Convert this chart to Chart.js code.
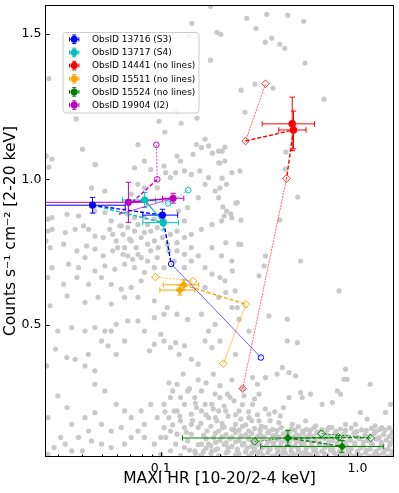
<!DOCTYPE html>
<html>
<head>
<meta charset="utf-8">
<script src="https://cdn.jsdelivr.net/npm/chart.js@4.4.1/dist/chart.umd.min.js"></script>
<style>html,body{margin:0;padding:0;background:#fff}canvas{display:block}</style>
</head>
<body>
<canvas id="c" width="399" height="493"></canvas>
<script>
// axis ranges and ticks
const X_MIN = 0.0258, X_MAX = 1.534, Y_MIN = 0.0446, Y_MAX = 1.600;
const xTicks = [0.03,0.04,0.05,0.06,0.07,0.08,0.09,0.1,0.2,0.3,0.4,0.5,0.6,0.7,0.8,0.9,1.0];
const xMajor = [0.1, 1.0];
const yTicks = [0.5, 1.0, 1.5];

// grey MAXI background sample, [HR, counts]
const bgSparse = [[0.179,1.596],[0.274,1.554],[0.346,1.568],[0.443,1.565],[0.533,1.544],[0.144,1.537],[0.193,1.506],[0.202,1.499],[0.305,1.520],[0.340,1.472],[0.367,1.486],[0.403,1.465],[0.427,1.451],[0.139,1.492],[0.105,1.465],[0.179,1.410],[0.541,1.400],[0.027,1.347],[0.372,1.314],[0.256,1.307],[0.301,1.328],[0.676,1.276],[0.268,1.231],[0.0372,1.208],[0.153,1.211],[0.127,1.193],[0.098,1.200],[0.105,1.163],[0.120,1.235],[0.040,1.104],[0.028,1.070],[0.027,1.042],[0.212,1.111],[0.205,1.097],[0.168,1.138],[0.183,1.090],[0.433,1.094],[0.200,1.056],[0.429,1.035],[0.205,1.004],[0.200,0.970],[0.497,0.939],[0.241,0.918],[0.207,0.905],[0.210,0.874],[0.227,0.881],[0.256,0.860],[0.403,0.860],[0.0466,1.051]];
const bgCore = [[0.0766,1.120],[0.152,1.120],[0.161,1.109],[0.175,1.115],[0.197,1.097],[0.146,1.086],[0.121,1.080],[0.126,1.063],[0.0463,1.052],[0.0736,1.040],[0.0826,1.063],[0.089,1.034],[0.104,1.046],[0.106,1.023],[0.119,1.023],[0.132,1.029],[0.143,1.017],[0.158,1.029],[0.175,1.006],[0.168,0.983],[0.197,1.057],[0.212,1.063],[0.230,1.023],[0.253,1.029],[0.189,0.960],[0.216,0.983],[0.197,0.937],[0.155,0.937],[0.137,0.903],[0.123,0.891],[0.112,1.006],[0.096,0.971],[0.0826,0.971],[0.0766,0.983],[0.0708,0.949],[0.052,0.960],[0.0445,0.971],[0.0262,1.080],
[0.0267,0.863],[0.028,0.868],[0.0334,0.880],[0.0382,0.874],[0.0463,0.891],[0.052,0.886],[0.056,0.857],[0.063,0.840],[0.068,0.834],[0.0736,0.868],[0.0826,0.868],[0.0736,0.822],[0.0795,0.800],[0.089,0.822],[0.096,0.834],[0.0858,0.777],[0.075,0.765],[0.0695,0.794],[0.0643,0.811],[0.0594,0.788],[0.055,0.828],[0.051,0.800],[0.0463,0.805],[0.043,0.828],[0.0405,0.840],[0.0367,0.828],[0.0327,0.817],[0.028,0.828],[0.0267,0.822],[0.0261,0.788],[0.0274,0.765],[0.0321,0.777],[0.0375,0.754],[0.042,0.771],[0.0463,0.760],[0.051,0.737],[0.057,0.754],[0.0643,0.742],[0.072,0.725],[0.0795,0.731],[0.089,0.754],[0.097,0.765],[0.110,0.754],[0.121,0.782],[0.132,0.800],[0.143,0.811],[0.161,0.828],[0.182,0.845],[0.204,0.857],[0.230,0.868],[0.245,0.920],[0.216,0.891],[0.132,0.857],[0.121,0.822],[0.143,0.765],[0.155,0.737],[0.182,0.765],[0.204,0.737],[0.230,0.719],[0.249,0.777],[0.168,0.696],[0.132,0.696],[0.104,0.696],[0.0928,0.696],[0.0826,0.680],[0.0736,0.696],[0.0655,0.708],[0.0584,0.691],[0.052,0.702],[0.0463,0.685],[0.0412,0.731],[0.0382,0.696],[0.034,0.708],[0.028,0.696],[0.0267,0.662],[0.0321,0.639],[0.0375,0.662],[0.043,0.639],[0.050,0.662],[0.056,0.639],[0.063,0.622],[0.0708,0.628],[0.0795,0.651],[0.0655,0.594],[0.056,0.571],[0.048,0.594],[0.0412,0.577],[0.0334,0.599],[0.0274,0.565],[0.0766,0.594],[0.0928,0.582],[0.108,0.559],[0.182,0.674],[0.212,0.651],[0.239,0.616],[0.230,0.559],[0.197,0.594],[0.168,0.628],
[0.068,0.880],[0.0766,0.845],[0.0858,0.845],[0.0928,0.863],[0.104,0.857],[0.0708,0.788],[0.0826,0.817],[0.0928,0.788],[0.102,0.800],[0.108,0.777],[0.0655,0.765],[0.0766,0.742],[0.0858,0.719],[0.096,0.731],[0.068,0.737],[0.0604,0.765],[0.117,0.719],[0.132,0.742],[0.143,0.719],[0.121,0.754],[0.112,0.811],[0.062,0.840],[0.057,0.811]];
const bgSoft = [[0.0292,0.416],[0.0333,0.387],[0.0367,0.381],[0.0428,0.398],[0.0412,0.358],[0.0463,0.341],[0.050,0.444],[0.054,0.427],[0.056,0.478],[0.0594,0.398],[0.0655,0.444],[0.0766,0.513],[0.0826,0.478],[0.0877,0.410],[0.100,0.467],[0.0928,0.433],[0.104,0.444],[0.112,0.421],[0.119,0.438],[0.124,0.398],[0.132,0.427],[0.143,0.381],[0.155,0.364],[0.168,0.444],[0.182,0.421],[0.175,0.478],[0.189,0.501],[0.161,0.536],[0.137,0.518],[0.121,0.536],[0.104,0.536],[0.0928,0.524],[0.068,0.513],[0.0594,0.501],[0.052,0.478],[0.0463,0.490],[0.0412,0.478],[0.0353,0.490],[0.030,0.478],[0.0263,0.358],[0.030,0.255],[0.0334,0.215],[0.0267,0.180],[0.031,0.112],[0.0353,0.157],[0.0412,0.180],[0.0463,0.197],[0.0463,0.295],[0.052,0.272],[0.0594,0.226],[0.0655,0.203],[0.0708,0.180],[0.0795,0.203],[0.0826,0.157],[0.089,0.226],[0.096,0.180],[0.104,0.226],[0.112,0.249],[0.121,0.295],[0.137,0.272],[0.149,0.249],[0.132,0.226],[0.117,0.203],[0.126,0.169],[0.143,0.192],[0.161,0.203],[0.182,0.226],[0.175,0.180],[0.155,0.146],[0.143,0.123],[0.132,0.146],[0.121,0.123],[0.112,0.134],[0.104,0.146],[0.100,0.112],[0.0928,0.089],[0.0826,0.112],[0.0766,0.134],[0.0708,0.112],[0.0655,0.089],[0.056,0.077],[0.050,0.089],[0.0445,0.100],[0.040,0.066],[0.0353,0.066],[0.0287,0.077],[0.0267,0.054],[0.063,0.146],[0.056,0.134],[0.050,0.157],[0.043,0.134],[0.0382,0.112],[0.0327,0.089],
[0.115,0.272],[0.126,0.249],[0.161,0.272],[0.189,0.261],[0.197,0.203],[0.172,0.134],[0.186,0.112],[0.161,0.089],[0.149,0.066],[0.132,0.077],[0.119,0.089],[0.112,0.066],[0.182,0.066],[0.197,0.134],[0.143,0.157],[0.121,0.203],[0.152,0.215],[0.110,0.180],[0.106,0.112],[0.193,0.169],[0.168,0.226],[0.137,0.100],[0.175,0.089],[0.126,0.049],[0.161,0.049],[0.197,0.049],[0.100,0.054]];
const bgShoulder = [[0.105,0.200],[0.115,0.155],[0.125,0.185],[0.135,0.130],[0.145,0.170],[0.150,0.230],[0.160,0.160],[0.165,0.120],[0.170,0.190],[0.180,0.150],[0.185,0.210],[0.190,0.180],[0.205,0.160],[0.210,0.220],[0.220,0.185],[0.230,0.140],[0.225,0.250],[0.240,0.190],[0.255,0.175],[0.260,0.225],[0.270,0.155],[0.280,0.200],[0.290,0.170],[0.300,0.245],[0.310,0.190],[0.325,0.150],[0.340,0.210],[0.360,0.170],[0.380,0.200],[0.420,0.215],[0.170,0.300],[0.200,0.290],[0.185,0.330],[0.155,0.310],[0.140,0.280],[0.130,0.330],[0.110,0.300],[0.230,0.310],[0.260,0.280]];
const bgHard = [[0.214,0.782],[0.255,0.776],[0.341,0.736],[0.335,0.702],[0.514,0.719],[0.231,0.685],[0.316,0.668],[0.200,0.662],[0.214,0.611],[0.355,0.530],[0.440,0.519],[0.806,0.616],[0.245,0.559],[0.250,0.519],[0.281,0.478],[0.200,0.444],[0.240,0.398],[0.440,0.444],[0.495,0.438],[0.415,0.353],[0.449,0.335],[0.485,0.324],[0.390,0.330],[0.341,0.318],[0.310,0.295],[0.293,0.318],[0.854,0.312],[0.887,0.312],[0.870,0.347],[1.16,0.295],[0.514,0.266],
[0.200,0.249],[0.218,0.261],[0.236,0.238],[0.265,0.255],[0.293,0.226],[0.316,0.261],[0.355,0.192],[0.405,0.186],[0.449,0.249],[0.524,0.249],[0.578,0.261],[0.662,0.226],[0.745,0.232],[0.790,0.272],[0.820,0.261],[1.035,0.198],[1.12,0.175],[1.39,0.198],[1.47,0.226],[0.214,0.203],[0.250,0.203],[0.281,0.180],[0.316,0.169],[0.399,0.163],[0.467,0.157],[0.545,0.169],[0.613,0.152],[0.716,0.146],[0.870,0.157],[0.978,0.157],[1.23,0.152],[1.33,0.146],[0.206,0.146],[0.240,0.157]];
const bgBand = [[0.21,0.148],[0.235,0.141],[0.26,0.150],[0.30,0.143],[0.34,0.147],[0.37,0.139],[0.41,0.146],[0.46,0.141],[0.50,0.149],[0.55,0.140],[0.60,0.145],[0.66,0.139],[0.74,0.146],[0.82,0.141],[0.93,0.144],[1.05,0.138],[1.18,0.143],[1.30,0.140],[1.45,0.145],
[0.19,0.127],[0.215,0.122],[0.24,0.129],[0.27,0.121],[0.29,0.126],[0.32,0.123],[0.35,0.128],[0.385,0.120],[0.42,0.125],[0.45,0.129],[0.49,0.121],[0.53,0.126],[0.57,0.122],[0.62,0.128],[0.69,0.121],[0.77,0.126],[0.85,0.123],[0.96,0.127],[1.09,0.121],[1.22,0.126],[1.36,0.122],[1.50,0.127],
[0.17,0.107],[0.20,0.102],[0.225,0.108],[0.25,0.101],[0.28,0.106],[0.305,0.103],[0.33,0.108],[0.36,0.100],[0.39,0.105],[0.43,0.102],[0.47,0.107],[0.51,0.101],[0.56,0.106],[0.61,0.103],[0.68,0.108],[0.75,0.101],[0.83,0.105],[0.92,0.102],[1.02,0.107],[1.12,0.101],[1.25,0.106],[1.40,0.103],[1.52,0.107],
[0.155,0.087],[0.18,0.083],[0.21,0.088],[0.23,0.081],[0.26,0.086],[0.29,0.082],[0.31,0.088],[0.345,0.083],[0.375,0.087],[0.405,0.081],[0.44,0.086],[0.48,0.083],[0.52,0.088],[0.585,0.082],[0.64,0.086],[0.71,0.083],[0.79,0.088],[0.88,0.082],[0.97,0.086],[1.07,0.083],[1.19,0.087],[1.32,0.082],[1.46,0.086],
[0.14,0.068],[0.165,0.063],[0.19,0.069],[0.22,0.064],[0.245,0.067],[0.27,0.062],[0.30,0.068],[0.32,0.064],[0.355,0.069],[0.395,0.063],[0.42,0.067],[0.46,0.064],[0.50,0.069],[0.54,0.062],[0.60,0.067],[0.66,0.064],[0.73,0.068],[0.81,0.063],[0.90,0.067],[1.00,0.064],[1.11,0.068],[1.24,0.063],[1.38,0.067],[1.50,0.064],
[0.16,0.050],[0.20,0.048],[0.24,0.051],[0.28,0.047],[0.33,0.050],[0.37,0.048],[0.41,0.051],[0.45,0.047],[0.49,0.050],[0.53,0.048],[0.58,0.051],[0.63,0.047],[0.70,0.050],[0.78,0.048],[0.86,0.051],[0.95,0.047],[1.04,0.050],[1.15,0.048],[1.28,0.051],[1.42,0.047]];
const bgBandFill = [[0.25,0.137],[0.28,0.134],[0.32,0.138],[0.355,0.133],[0.39,0.136],[0.44,0.132],[0.48,0.137],[0.525,0.134],[0.575,0.136],[0.63,0.131],[0.70,0.137],[0.78,0.133],[0.87,0.136],[0.99,0.132],[1.11,0.136],[1.24,0.133],[1.38,0.137],[1.52,0.134],
[0.205,0.115],[0.23,0.113],[0.255,0.117],[0.28,0.112],[0.31,0.116],[0.335,0.114],[0.37,0.117],[0.40,0.112],[0.435,0.115],[0.47,0.113],[0.51,0.117],[0.55,0.112],[0.595,0.116],[0.65,0.113],[0.72,0.116],[0.80,0.112],[0.89,0.115],[1.00,0.113],[1.15,0.117],[1.29,0.112],[1.45,0.115],
[0.19,0.095],[0.215,0.093],[0.24,0.097],[0.265,0.092],[0.295,0.096],[0.32,0.093],[0.35,0.097],[0.375,0.092],[0.41,0.095],[0.45,0.093],[0.49,0.097],[0.535,0.092],[0.58,0.096],[0.645,0.093],[0.715,0.097],[0.79,0.092],[0.87,0.095],[0.97,0.093],[1.07,0.096],[1.18,0.092],[1.32,0.095],[1.47,0.093],
[0.17,0.075],[0.195,0.073],[0.22,0.077],[0.245,0.072],[0.275,0.076],[0.30,0.073],[0.33,0.077],[0.36,0.072],[0.39,0.075],[0.425,0.073],[0.46,0.077],[0.50,0.072],[0.55,0.076],[0.61,0.073],[0.68,0.077],[0.75,0.072],[0.84,0.075],[0.93,0.073],[1.04,0.076],[1.16,0.072],[1.29,0.075],[1.43,0.073],
[0.15,0.057],[0.18,0.056],[0.215,0.059],[0.25,0.055],[0.29,0.058],[0.31,0.056],[0.35,0.059],[0.39,0.055],[0.43,0.058],[0.47,0.056],[0.51,0.059],[0.56,0.055],[0.62,0.058],[0.68,0.056],[0.76,0.059],[0.83,0.055],[0.91,0.058],[1.00,0.056],[1.10,0.059],[1.22,0.055],[1.35,0.058],[1.50,0.056]];

// ObsID 13716 (S3) - blue
const blueHR = [0.045, 0.102], blueRate = [0.911, 0.877];
const blueLo = [0.010, 0.081], blueHi = [0.066, 0.122], blueErr = [0.027, 0.020];
const blueOpenHR = [0.113, 0.323], blueOpenRate = [0.709, 0.387];
// ObsID 13717 (S4) - cyan
const cyanHR = [0.0829, 0.103], cyanRate = [0.929, 0.851];
const cyanLo = [0.064, 0.081], cyanHi = [0.094, 0.123], cyanErr = [0.026, 0.025];
const cyanOpenHR = [0.109, 0.138], cyanOpenRate = [0.917, 0.963];
// ObsID 14441 - red
const redHR = [0.466, 0.473], redRate = [1.191, 1.170];
const redLo = [0.328, 0.398], redHi = [0.605, 0.548], redErr = [0.092, 0.065];
const redOpenHR = [0.341, 0.270, 0.436, 0.261], redOpenRate = [1.329, 1.132, 1.003, 0.280];
// ObsID 15511 - orange
const orgHR = [0.131, 0.125], orgRate = [0.637, 0.619];
const orgLo = [0.103, 0.099], orgHi = [0.156, 0.149], orgErr = [0.017, 0.017];
const orgOpenHR = [0.094, 0.146, 0.271, 0.208], orgOpenRate = [0.664, 0.650, 0.570, 0.366];
// ObsID 15524 - green
const grnHR = [0.443, 0.835], grnRate = [0.110, 0.081];
const grnLo = [0.129, 0.322], grnHi = [0.803, 1.36], grnErr = [0.026, 0.020];
const grnOpenHR = [0.300, 0.656, 0.803, 1.168], grnOpenRate = [0.098, 0.125, 0.112, 0.110];
// ObsID 19904 (I2) - magenta
const magHR = [0.0685, 0.1155], magRate = [0.921, 0.935];
const magLo = [0.010, 0.102], magHi = [0.085, 0.131], magErr = [0.069, 0.017];
const magOpenHR = [0.095, 0.096], magOpenRate = [1.119, 1.000];
const magTurnHR = 0.0615, magTurnRate = 0.880;

const legendLabels = ['ObsID 13716 (S3)','ObsID 13717 (S4)','ObsID 14441 (no lines)','ObsID 15511 (no lines)','ObsID 15524 (no lines)','ObsID 19904 (I2)'];

const C = {blue:'#0000ff', cyan:'#00bfbf', red:'#ff0000', orange:'#ffa500', green:'#008000', mag:'#bf00bf'};
const FONT = 'DejaVu Sans';

const xy = (hr, rate) => hr.map((h,i)=>({x:h, y:rate[i]}));
const pairs = a => a.map(([x,y])=>({x,y}));
const P = (h,r) => ({x:h, y:r});

function line(data, color, width, dash){return{data,showLine:true,borderColor:color,borderWidth:width,borderDash:dash,pointRadius:0,tension:0,order:5};}
function openPts(data, color, style, r){return{data,showLine:false,pointStyle:style,pointRadius:r,pointBackgroundColor:'rgba(0,0,0,0)',pointBorderColor:color,pointBorderWidth:1,order:2};}
function filled(data, color, style, r){return{data,showLine:false,pointStyle:style,pointRadius:r,pointBackgroundColor:color,pointBorderColor:color,pointBorderWidth:0,order:1};}
const fade = (hex,a) => {const n=parseInt(hex.slice(1),16);return`rgba(${n>>16},${(n>>8)&255},${n&255},${a})`;};

const errGroups = [
  {hr:blueHR, rate:blueRate, lo:blueLo, hi:blueHi, err:blueErr, color:C.blue},
  {hr:cyanHR, rate:cyanRate, lo:cyanLo, hi:cyanHi, err:cyanErr, color:C.cyan},
  {hr:redHR, rate:redRate, lo:redLo, hi:redHi, err:redErr, color:C.red},
  {hr:orgHR, rate:orgRate, lo:orgLo, hi:orgHi, err:orgErr, color:C.orange},
  {hr:grnHR, rate:grnRate, lo:grnLo, hi:grnHi, err:grnErr, color:C.green},
  {hr:magHR, rate:magRate, lo:magLo, hi:magHi, err:magErr, color:C.mag}
];

const bO = xy(blueOpenHR, blueOpenRate), bF = xy(blueHR, blueRate);
const cO = xy(cyanOpenHR, cyanOpenRate), cF = xy(cyanHR, cyanRate);
const rO = xy(redOpenHR, redOpenRate), rF = xy(redHR, redRate);
const oO = xy(orgOpenHR, orgOpenRate), oF = xy(orgHR, orgRate);
const gO = xy(grnOpenHR, grnOpenRate), gF = xy(grnHR, grnRate);
const mO = xy(magOpenHR, magOpenRate), mF = xy(magHR, magRate);

const datasets = [
  // grey background
  {data:pairs([...bgSparse,...bgCore,...bgSoft,...bgShoulder,...bgHard,...bgBand,...bgBandFill]),showLine:false,pointRadius:2.6,pointBackgroundColor:'#c9c9c9',pointBorderWidth:0,order:10,clip:0},
  // connecting lines
  line([bF[0],bF[1],bO[0]], C.blue, 1.4, [4,2]),
  line([bO[0],bO[1]], fade(C.blue,0.6), 1, []),
  line([bF[0],cF[1]], C.cyan, 1.4, [4,2]),
  line([cF[0],cF[1]], C.cyan, 1.2, []),
  line([cF[0],cO[0],cO[1]], fade(C.cyan,0.7), 1, [2,1.5]),
  line([rO[0],rO[1]], fade(C.red,0.6), 1, [2,1]),
  line([rO[1],rF[1],rF[0]], C.red, 1.4, [4,2]),
  line([rF[1],rO[2]], C.red, 1.4, [4,2]),
  line([rO[2],rO[3]], fade(C.red,0.6), 1, [2,1]),
  line([oO[0],oO[1]], fade(C.orange,0.7), 1, [2,1.5]),
  line([oF[0],oO[2]], C.orange, 1.4, [4,2]),
  line([oO[2],oO[3]], fade(C.orange,0.6), 1, []),
  line([gO[0],gF[0]], fade(C.green,0.7), 1, [2,1.5]),
  line([gF[0],gF[1]], C.green, 1.4, [4,2]),
  line([gF[0],gO[2],gO[3]], C.green, 1.2, [4,2]),
  line([gO[1],gO[3]], C.green, 1, [2,1.5]),
  line([mO[0],mO[1]], fade(C.mag,0.7), 1, [2,1.5]),
  line([mO[1],P(magTurnHR,magTurnRate)], C.mag, 1.4, [4,2]),
  line([P(magTurnHR,magTurnRate),mF[1]], fade(C.mag,0.7), 1, []),
  line([mF[0],mF[1]], C.mag, 1.6, []),
  // open markers
  openPts(bO, C.blue, 'circle', 2.8),
  openPts(cO, C.cyan, 'circle', 2.8),
  openPts(rO, fade(C.red,0.8), 'rectRot', 3.8),
  openPts(oO, C.orange, 'rectRot', 3.8),
  openPts(gO, C.green, 'rectRot', 3.8),
  openPts(mO, C.mag, 'circle', 2.8),
  // filled markers
  filled(bF, C.blue, 'circle', 3.6),
  filled(cF, C.cyan, 'circle', 3.6),
  filled(rF, C.red, 'circle', 3.8),
  filled(oF, C.orange, 'rectRot', 4.2),
  filled(gF, C.green, 'rectRot', 4.2),
  filled(mF, C.mag, 'circle', 3.6)
];

function drawErr(chart, g){
  const {ctx, scales:{x,y}} = chart;
  ctx.strokeStyle = g.color; ctx.lineWidth = 1;
  g.hr.forEach((h,i)=>{
    const px = x.getPixelForValue(h), py = y.getPixelForValue(g.rate[i]);
    const x0 = x.getPixelForValue(g.lo[i]), x1 = x.getPixelForValue(g.hi[i]);
    const y0 = y.getPixelForValue(g.rate[i]-g.err[i]), y1 = y.getPixelForValue(g.rate[i]+g.err[i]);
    ctx.beginPath();
    ctx.moveTo(x0,py); ctx.lineTo(x1,py);
    ctx.moveTo(x0,py-2.7); ctx.lineTo(x0,py+2.7);
    ctx.moveTo(x1,py-2.7); ctx.lineTo(x1,py+2.7);
    ctx.moveTo(px,y0); ctx.lineTo(px,y1);
    ctx.moveTo(px-2.7,y0); ctx.lineTo(px+2.7,y0);
    ctx.moveTo(px-2.7,y1); ctx.lineTo(px+2.7,y1);
    ctx.stroke();
  });
}

const errPlugin = {
  id:'errbars',
  afterDatasetDraw(chart, args){
    if(args.index!==0)return;
    const a = chart.chartArea, ctx = chart.ctx;
    ctx.save(); ctx.beginPath(); ctx.rect(a.left,a.top,a.right-a.left,a.bottom-a.top); ctx.clip();
    errGroups.forEach(g=>drawErr(chart,g));
    ctx.restore();
  }
};

const framePlugin = {
  id:'frame',
  afterDraw(chart){
    const {ctx, chartArea:a, scales:{x,y}} = chart;
    ctx.save();
    ctx.strokeStyle='#000'; ctx.lineWidth=1;
    ctx.beginPath();
    xTicks.forEach(v=>{const px=Math.round(x.getPixelForValue(v))+0.5;const len=xMajor.includes(v)?4.5:2.5;ctx.moveTo(px,a.bottom);ctx.lineTo(px,a.bottom-len);});
    yTicks.forEach(v=>{const py=Math.round(y.getPixelForValue(v))+0.5;ctx.moveTo(a.left,py);ctx.lineTo(a.left+4.5,py);});
    ctx.stroke();
    ctx.strokeRect(a.left+0.5,a.top+0.5,a.right-a.left-1,a.bottom-a.top-1);

    // legend
    const lx = a.left+17.5, ly = a.top+27, lw = 136, lh = 80.5;
    ctx.beginPath(); ctx.roundRect(lx+0.5,ly+0.5,lw,lh,3);
    ctx.fillStyle='rgba(255,255,255,0.85)'; ctx.fill();
    ctx.strokeStyle='#cccccc'; ctx.stroke();
    const cols=[C.blue,C.cyan,C.red,C.orange,C.green,C.mag];
    ctx.font=`9px "${FONT}"`; ctx.textBaseline='middle';
    legendLabels.forEach((t,i)=>{
      const my = ly+7.3+13.15*i, mx = lx+11.7;
      ctx.strokeStyle=cols[i]; ctx.fillStyle=cols[i]; ctx.lineWidth=1;
      ctx.beginPath();
      ctx.moveTo(mx-4.7,my);ctx.lineTo(mx+4.7,my);
      ctx.moveTo(mx-4.7,my-2);ctx.lineTo(mx-4.7,my+2);
      ctx.moveTo(mx+4.7,my-2);ctx.lineTo(mx+4.7,my+2);
      ctx.moveTo(mx,my-4.3);ctx.lineTo(mx,my+4.3);
      ctx.moveTo(mx-2,my-4.3);ctx.lineTo(mx+2,my-4.3);
      ctx.moveTo(mx-2,my+4.3);ctx.lineTo(mx+2,my+4.3);
      ctx.stroke();
      ctx.beginPath(); ctx.arc(mx,my,3.5,0,Math.PI*2); ctx.fill();
      ctx.fillStyle='#000'; ctx.fillText(t, lx+29.4, my+0.5);
    });
    ctx.restore();
  }
};

const noPad = s => {s.paddingTop=0;s.paddingBottom=0;s.paddingLeft=0;s.paddingRight=0;};

new Chart(document.getElementById('c'), {
  type:'scatter',
  data:{datasets},
  options:{
    responsive:false, animation:false, events:[],
    layout:{padding:{top:3,right:4,left:0,bottom:0}},
    plugins:{legend:{display:false}, tooltip:{enabled:false}},
    scales:{
      x:{
        type:'logarithmic', position:'bottom', min:X_MIN, max:X_MAX,
        grid:{display:false, drawTicks:false}, border:{display:false},
        afterBuildTicks:s=>{s.ticks=xTicks.map(v=>({value:v}));},
        afterFit:s=>{s.height=36;noPad(s);},
        ticks:{autoSkip:false, maxRotation:0, padding:4, color:'#000', font:{family:FONT,size:12.5},
          callback:v=>v===0.1?'0.1':(v===1?'1.0':'')},
        title:{display:true, text:'MAXI HR [10-20/2-4 keV]', color:'#000', font:{family:FONT,size:15.5}, padding:{top:0,bottom:5}}
      },
      y:{
        type:'linear', position:'left', min:Y_MIN, max:Y_MAX,
        grid:{display:false, drawTicks:false}, border:{display:false},
        afterBuildTicks:s=>{s.ticks=yTicks.map(v=>({value:v}));},
        afterFit:s=>{s.width=45;noPad(s);},
        ticks:{padding:3.5, color:'#000', font:{family:FONT,size:12.5}, callback:v=>v.toFixed(1)},
        title:{display:true, text:'Counts s\u207B\u00B9 cm\u207B\u00B2 [2-20 keV]', color:'#000', font:{family:FONT,size:15.5}, padding:{top:2,bottom:0}}
      }
    }
  },
  plugins:[errPlugin, framePlugin]
});
</script>
</body>
</html>
